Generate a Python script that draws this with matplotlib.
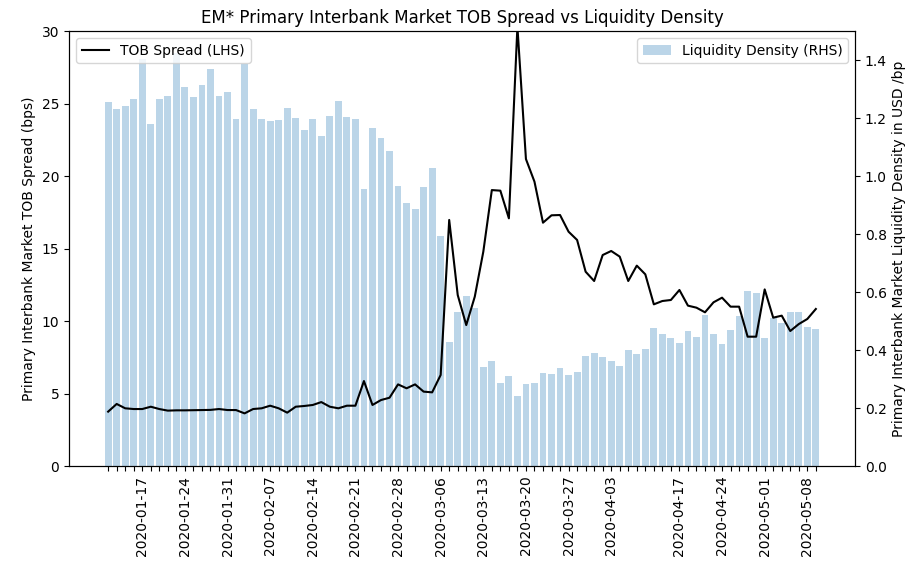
import matplotlib
matplotlib.use('Agg')
import matplotlib.pyplot as plt
import pandas as pd

# business days, with Good Friday / Easter Monday missing from the data
dates = pd.bdate_range('2020-01-13', '2020-05-11')
dates = dates.drop([pd.Timestamp('2020-04-10'), pd.Timestamp('2020-04-13')])

tob_spread = [
    3.75, 4.28, 3.98, 3.93, 3.93, 4.09, 3.93, 3.82, 3.84, 3.84,
    3.85, 3.86, 3.87, 3.93, 3.86, 3.86, 3.63, 3.93, 3.98, 4.16,
    3.98, 3.68, 4.09, 4.14, 4.21, 4.41, 4.09, 3.98, 4.16, 4.16,
    5.86, 4.21, 4.55, 4.71, 5.63, 5.36, 5.63, 5.13, 5.08, 6.28,
    16.97, 11.79, 9.72, 11.68, 14.78, 19.03, 18.99, 17.08, 30.3, 21.17,
    19.61, 16.78, 17.29, 17.31, 16.16, 15.59, 13.40, 12.76, 14.55, 14.83,
    14.44, 12.76, 13.82, 13.22, 11.15, 11.38, 11.45, 12.14, 11.06, 10.92,
    10.60, 11.29, 11.61, 10.99, 10.99, 8.92, 8.92, 12.18, 10.23, 10.37,
    9.31, 9.79, 10.14, 10.83,
]

liquidity_density = [
    1.256, 1.230, 1.241, 1.267, 1.403, 1.179, 1.267, 1.276, 1.423, 1.308,
    1.272, 1.315, 1.368, 1.276, 1.289, 1.197, 1.385, 1.230, 1.197, 1.190,
    1.193, 1.233, 1.200, 1.160, 1.197, 1.138, 1.208, 1.259, 1.205, 1.197,
    0.954, 1.167, 1.130, 1.086, 0.964, 0.906, 0.887, 0.961, 1.026, 0.792,
    0.429, 0.532, 0.587, 0.544, 0.341, 0.362, 0.285, 0.310, 0.241, 0.282,
    0.285, 0.322, 0.317, 0.337, 0.314, 0.325, 0.380, 0.388, 0.375, 0.362,
    0.345, 0.400, 0.385, 0.403, 0.477, 0.455, 0.440, 0.425, 0.466, 0.444,
    0.521, 0.455, 0.421, 0.470, 0.517, 0.603, 0.596, 0.440, 0.509, 0.492,
    0.530, 0.530, 0.480, 0.474,
]

x = list(range(len(dates)))
tick_labels = [d.strftime('%Y-%m-%d') if d.weekday() == 4 else '' for d in dates]

fig = plt.figure(figsize=(9.08, 5.67), dpi=100)
ax = fig.add_axes([0.076, 0.1781, 0.8656, 0.7672])
ax2 = ax.twinx()

# bars on the right axis, line drawn above them
ax2.bar(x, liquidity_density, width=0.8, color='#1f77b4', alpha=0.3,
        label='Liquidity Density (RHS)')
ax.plot(x, tob_spread, color='black', lw=1.5, label='TOB Spread (LHS)')
ax.set_zorder(ax2.get_zorder() + 1)
ax.patch.set_visible(False)

ax.set_xlim(-4.59, 87.59)
ax.set_ylim(0, 30)
ax2.set_ylim(0, 1.5)
ax.set_xticks(x)
ax.set_xticklabels(tick_labels, rotation=90)

ax.set_ylabel('Primary Interbank Market TOB Spread (bps)')
ax2.set_ylabel('Primary Interbank Market Liquidity Density in USD /bp')
ax.set_title('EM* Primary Interbank Market TOB Spread vs Liquidity Density')

ax.legend(loc='upper left')
ax2.legend(loc='upper right')

fig.savefig('out.png', dpi=100)
